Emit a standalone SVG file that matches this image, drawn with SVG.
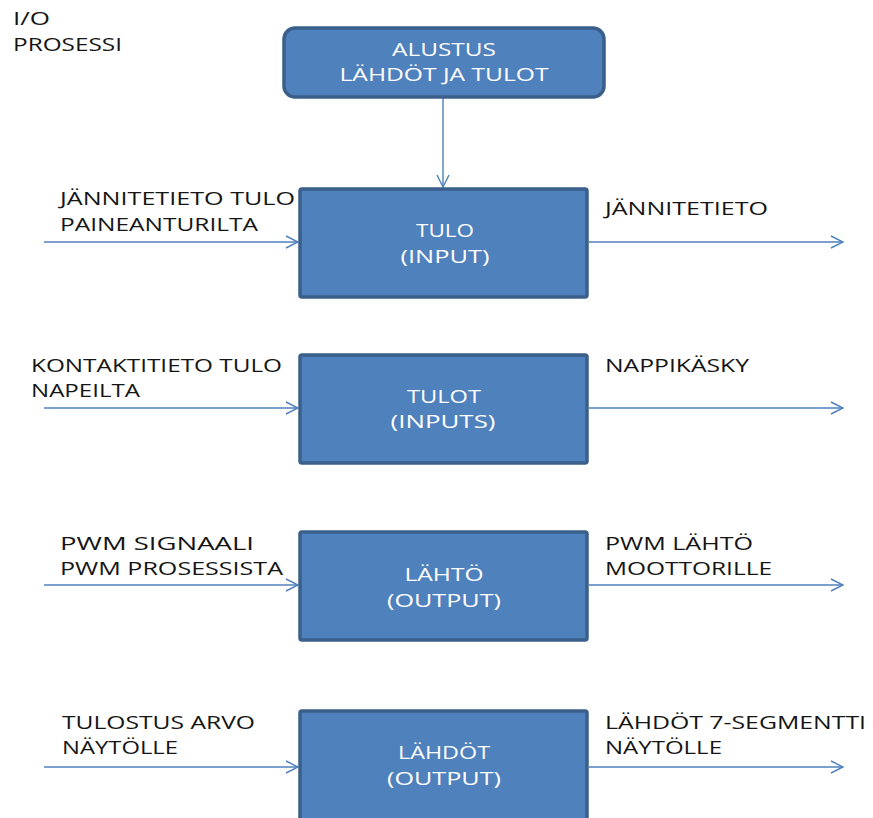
<svg xmlns="http://www.w3.org/2000/svg" width="873" height="818" viewBox="0 0 873 818">
  <style>
    .box { fill: #4F81BD; stroke: #3A5F8B; stroke-width: 3.5; }
    .lbl { font-family: "Open Sans", "Liberation Sans", Arial, sans-serif; font-size: 18px; fill: #151515; }
    .in { font-family: "Open Sans", "Liberation Sans", Arial, sans-serif; font-size: 18px; fill: #FFFFFF; text-anchor: middle; }
    .wire { stroke: #4F81BD; stroke-width: 1.4; fill: none; marker-end: url(#open); }
  </style>
  <defs>
    <marker id="open" viewBox="0 0 14 14" refX="13" refY="7" markerWidth="14" markerHeight="14" markerUnits="userSpaceOnUse" orient="auto">
      <path d="M1,1 L13,7 L1,13" fill="none" stroke="#4F81BD" stroke-width="1.4"/>
    </marker>
  </defs>
  <rect width="873" height="818" fill="#FFFFFF"/>

  <g id="title">
    <text class="lbl" x="13" y="25" textLength="37" lengthAdjust="spacingAndGlyphs">I/O</text>
    <text class="lbl" x="13" y="51" textLength="109" lengthAdjust="spacingAndGlyphs">PROSESSI</text>
  </g>

  <g id="connectors">
    <line class="wire" x1="443" y1="98" x2="443" y2="187"/>
    <line class="wire" x1="44" y1="242" x2="298" y2="242"/>
    <line class="wire" x1="589" y1="242" x2="843" y2="242"/>
    <line class="wire" x1="44" y1="408" x2="298" y2="408"/>
    <line class="wire" x1="589" y1="408" x2="843" y2="408"/>
    <line class="wire" x1="44" y1="585" x2="298" y2="585"/>
    <line class="wire" x1="589" y1="585" x2="843" y2="585"/>
    <line class="wire" x1="44" y1="767" x2="298" y2="767"/>
    <line class="wire" x1="589" y1="767" x2="843" y2="767"/>
  </g>

  <g id="init">
    <rect class="box" x="284" y="28" width="320" height="69" rx="11"/>
    <text class="in" x="444" y="56" textLength="104" lengthAdjust="spacingAndGlyphs">ALUSTUS</text>
    <text class="in" x="444" y="81" textLength="209" lengthAdjust="spacingAndGlyphs">LÄHDÖT JA TULOT</text>
  </g>

  <g id="input">
    <rect class="box" x="300" y="189" width="287" height="108" rx="2"/>
    <text class="in" x="445" y="237" textLength="58" lengthAdjust="spacingAndGlyphs">TULO</text>
    <text class="in" x="445" y="263" textLength="89" lengthAdjust="spacingAndGlyphs">(INPUT)</text>
    <text class="lbl" x="60" y="205" textLength="235" lengthAdjust="spacingAndGlyphs">JÄNNITETIETO TULO</text>
    <text class="lbl" x="60" y="231" textLength="198" lengthAdjust="spacingAndGlyphs">PAINEANTURILTA</text>
    <text class="lbl" x="605" y="215" textLength="163" lengthAdjust="spacingAndGlyphs">JÄNNITETIETO</text>
  </g>

  <g id="inputs">
    <rect class="box" x="300" y="355" width="287" height="108" rx="2"/>
    <text class="in" x="444" y="403" textLength="74" lengthAdjust="spacingAndGlyphs">TULOT</text>
    <text class="in" x="443" y="428" textLength="105" lengthAdjust="spacingAndGlyphs">(INPUTS)</text>
    <text class="lbl" x="31" y="372" textLength="251" lengthAdjust="spacingAndGlyphs">KONTAKTITIETO TULO</text>
    <text class="lbl" x="31" y="397" textLength="109" lengthAdjust="spacingAndGlyphs">NAPEILTA</text>
    <text class="lbl" x="605" y="372" textLength="144" lengthAdjust="spacingAndGlyphs">NAPPIKÄSKY</text>
  </g>

  <g id="output">
    <rect class="box" x="300" y="532" width="287" height="108" rx="2"/>
    <text class="in" x="444" y="581" textLength="79" lengthAdjust="spacingAndGlyphs">LÄHTÖ</text>
    <text class="in" x="444" y="607" textLength="114" lengthAdjust="spacingAndGlyphs">(OUTPUT)</text>
    <text class="lbl" x="60" y="550" textLength="194" lengthAdjust="spacingAndGlyphs">PWM SIGNAALI</text>
    <text class="lbl" x="60" y="575" textLength="223" lengthAdjust="spacingAndGlyphs">PWM PROSESSISTA</text>
    <text class="lbl" x="605" y="550" textLength="148" lengthAdjust="spacingAndGlyphs">PWM LÄHTÖ</text>
    <text class="lbl" x="605" y="575" textLength="167" lengthAdjust="spacingAndGlyphs">MOOTTORILLE</text>
  </g>

  <g id="outputs">
    <rect class="box" x="300" y="711" width="287" height="120" rx="2"/>
    <text class="in" x="444" y="759" textLength="92" lengthAdjust="spacingAndGlyphs">LÄHDÖT</text>
    <text class="in" x="444" y="785" textLength="114" lengthAdjust="spacingAndGlyphs">(OUTPUT)</text>
    <text class="lbl" x="62" y="729" textLength="193" lengthAdjust="spacingAndGlyphs">TULOSTUS ARVO</text>
    <text class="lbl" x="62" y="754" textLength="116" lengthAdjust="spacingAndGlyphs">NÄYTÖLLE</text>
    <text class="lbl" x="605" y="729" textLength="261" lengthAdjust="spacingAndGlyphs">LÄHDÖT 7-SEGMENTTI</text>
    <text class="lbl" x="605" y="754" textLength="117" lengthAdjust="spacingAndGlyphs">NÄYTÖLLE</text>
  </g>
</svg>
